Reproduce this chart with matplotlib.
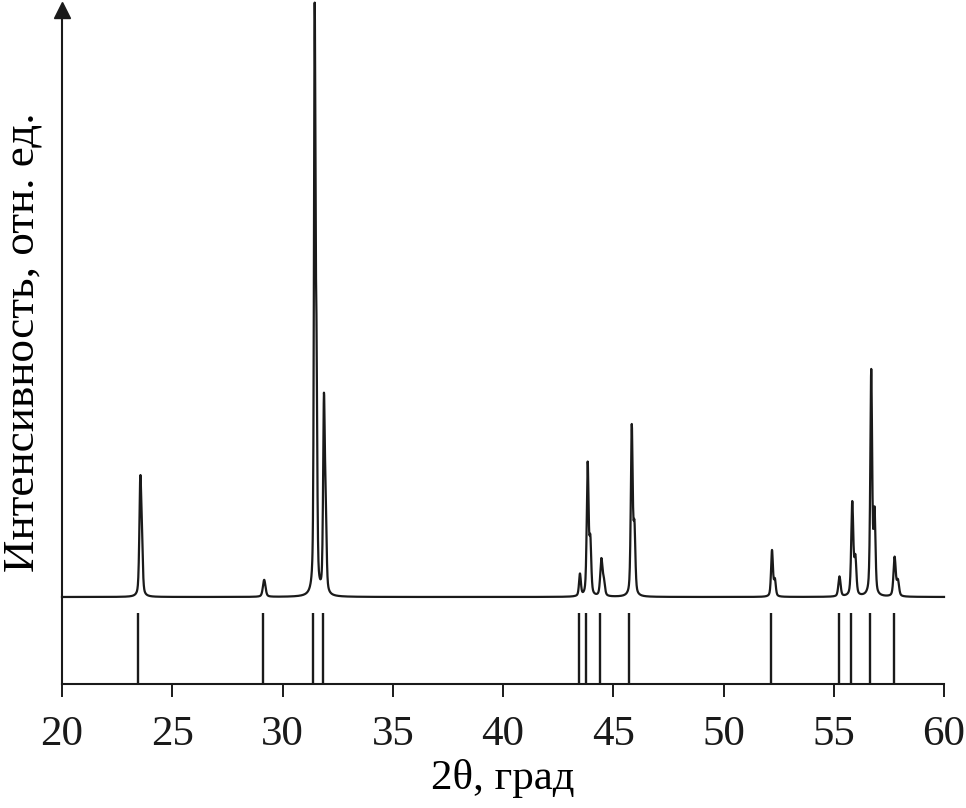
import numpy as np
import matplotlib
matplotlib.use("Agg")
import matplotlib.pyplot as plt

# ---- data ----
two_theta_min, two_theta_max = 20.0, 60.0
baseline_level = 87.0
# observed peaks: position (deg 2θ), height above baseline (a.u.), FWHM (deg)
peak_pos = [23.55, 23.62, 29.17, 31.46, 31.54, 31.88, 31.96, 43.49, 43.84, 43.96,
            44.46, 44.57, 45.84, 45.96, 52.20, 52.33, 55.26, 55.84, 55.98,
            56.70, 56.85, 57.76, 57.91]
peak_height = [108, 45, 17, 567, 210, 188, 75, 22, 131, 52,
               36, 14, 168, 64, 46, 16, 20, 93, 36,
               224, 80, 39, 15]
peak_fwhm = [0.10, 0.10, 0.14, 0.08, 0.08, 0.09, 0.09, 0.10, 0.10, 0.10,
             0.12, 0.12, 0.10, 0.10, 0.10, 0.10, 0.12, 0.11, 0.11,
             0.10, 0.10, 0.12, 0.12]
# reference (card) lines
ref_pos = [23.46, 29.10, 31.37, 31.82, 43.45, 43.78, 44.41, 45.73,
           52.14, 55.24, 55.80, 56.64, 57.73]
ref_height = 71.0
x_ticks = [20, 25, 30, 35, 40, 45, 50, 55, 60]

# ---- build profile from the peak list ----
tt = np.arange(two_theta_min, two_theta_max + 0.005, 0.01)
inten = np.full_like(tt, baseline_level)
for p, h, w in zip(peak_pos, peak_height, peak_fwhm):
    lor = 1.0 / (1.0 + ((tt - p) / (w / 2)) ** 2)
    gau = np.exp(-4 * np.log(2) * ((tt - p) / w) ** 2)
    inten += h * (0.45 * lor + 0.55 * gau)

plt.rcParams['font.family'] = ['Liberation Serif', 'DejaVu Serif']
fig = plt.figure(figsize=(9.66, 8.08), dpi=100)
ax = fig.add_axes([62 / 966, 124 / 808, 882 / 966, 684 / 808])
ax.set_xlim(two_theta_min, two_theta_max)
ax.set_ylim(0, 684)

ax.plot(tt, inten, color='#1a1a1a', lw=1.6, clip_on=False)
ax.vlines(ref_pos, 0, ref_height, color='#1a1a1a', lw=1.7)

for s in ['top', 'right', 'left']:
    ax.spines[s].set_visible(False)
ax.spines['bottom'].set_linewidth(1.5)
ax.spines['bottom'].set_color('#1a1a1a')

# y axis with arrow
ax.plot([0, 0], [0, 0.985], transform=ax.transAxes, color='#1a1a1a', lw=1.5, clip_on=False)
ax.plot([0], [0.985], transform=ax.transAxes, marker='^', markersize=12,
        color='#1a1a1a', clip_on=False)

ax.set_xticks(x_ticks)
ax.set_xticklabels([str(t) for t in x_ticks])
ax.tick_params(axis='x', direction='out', length=9, width=1.4, pad=14,
               labelsize=31, colors='#1a1a1a')
ax.set_yticks([])

ax.set_xlabel('2θ, град', fontsize=31, labelpad=3)
ax.set_ylabel('Интенсивность, отн. ед.', fontsize=32.5, labelpad=14)

fig.savefig('out.png', dpi=100)
